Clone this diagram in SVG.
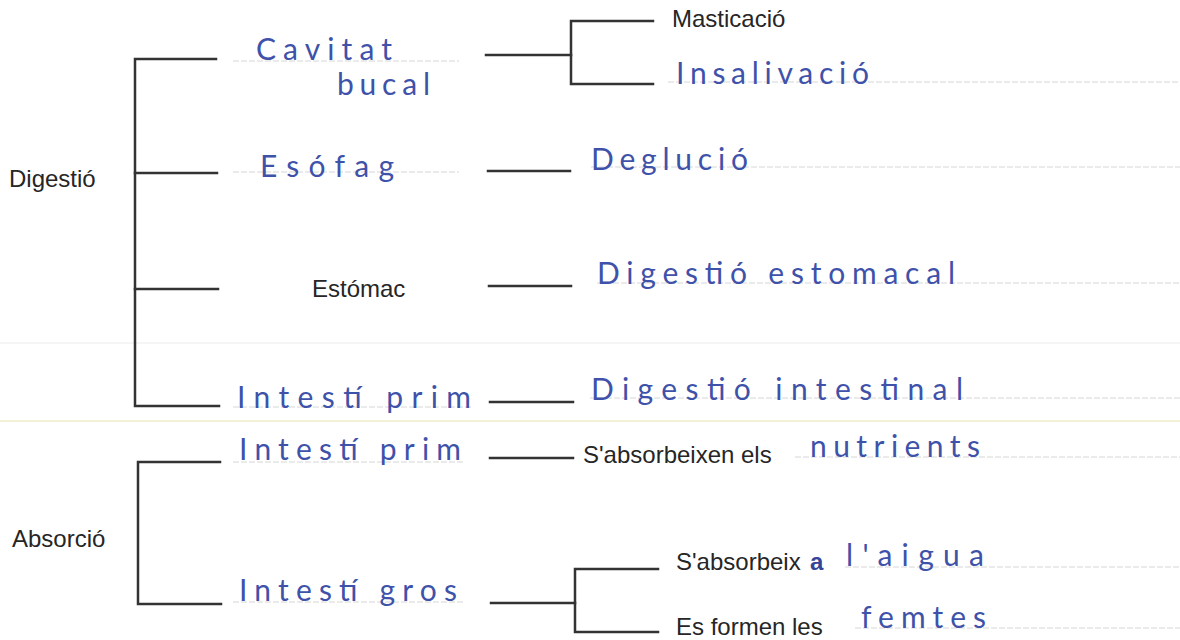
<svg xmlns="http://www.w3.org/2000/svg" width="1180" height="640" viewBox="0 0 1180 640">
<style>
.bg{fill:#ffffff}
.pl{stroke:#ececec;stroke-width:1}
.ply{stroke:#f4f0d6;stroke-width:2}
.gl{stroke:#d6d6d6;stroke-width:1;stroke-dasharray:6 2}
.cn{fill:none;stroke:#333333;stroke-width:2.5;stroke-linecap:square}
.pt{font-family:"Liberation Sans",Arial,sans-serif;font-size:24px;fill:#262626}
.hw{font-family:Lato,"Open Sans","DejaVu Sans",sans-serif;font-weight:normal;font-size:30px;fill:#3f52aa}
</style>
<rect class="bg" x="0" y="0" width="1180" height="640"/>
<g id="guides">
<line class="pl" x1="0" y1="343" x2="1180" y2="343"/>
<line class="ply" x1="0" y1="421" x2="1180" y2="421"/>
<line class="gl" x1="233" y1="61" x2="459" y2="61"/>
<line class="gl" x1="233" y1="172" x2="459" y2="172"/>
<line class="gl" x1="233" y1="407" x2="472" y2="407"/>
<line class="gl" x1="233" y1="462" x2="463" y2="462"/>
<line class="gl" x1="233" y1="602" x2="463" y2="602"/>
<line class="gl" x1="668" y1="82" x2="1180" y2="82"/>
<line class="gl" x1="591" y1="167" x2="1180" y2="167"/>
<line class="gl" x1="597" y1="283" x2="1180" y2="283"/>
<line class="gl" x1="590" y1="398" x2="1180" y2="398"/>
<line class="gl" x1="795" y1="457" x2="1180" y2="457"/>
<line class="gl" x1="845" y1="567" x2="1180" y2="567"/>
<line class="gl" x1="855" y1="628" x2="1180" y2="628"/>
</g>
<g id="connectors">
<path class="cn" d="M216,59 H135 V406 H219"/>
<path class="cn" d="M135,173 H217"/>
<path class="cn" d="M135,289 H218"/>
<path class="cn" d="M486,55 H571"/>
<path class="cn" d="M653,21 H571 V84 H653"/>
<path class="cn" d="M488,171 H570"/>
<path class="cn" d="M489,286 H571"/>
<path class="cn" d="M490,402 H573"/>
<path class="cn" d="M220,462 H138 V604 H221"/>
<path class="cn" d="M490,458 H573"/>
<path class="cn" d="M491,603 H575"/>
<path class="cn" d="M658,569 H575 V632 H658"/>
</g>
<g id="digestio"><text class="pt" x="9" y="187">Digestió</text></g>
<g id="absorcio"><text class="pt" x="12" y="547">Absorció</text></g>
<g id="cavitat"><text class="hw" x="256" y="60" textLength="136" lengthAdjust="spacing">Cavitat</text><text class="hw" x="337" y="95" textLength="93" lengthAdjust="spacing">bucal</text></g>
<g id="esofag"><text class="hw" x="260" y="177" textLength="134" lengthAdjust="spacing">Esófag</text></g>
<g id="estomac"><text class="pt" x="312" y="297">Estómac</text></g>
<g id="intesti-prim-1"><text class="hw" x="237" y="408" textLength="234" lengthAdjust="spacing">Intestí prim</text></g>
<g id="intesti-prim-2"><text class="hw" x="239" y="460" textLength="222" lengthAdjust="spacing">Intestí prim</text></g>
<g id="intesti-gros"><text class="hw" x="239" y="601" textLength="218" lengthAdjust="spacing">Intestí gros</text></g>
<g id="masticacio"><text class="pt" x="672" y="27">Masticació</text></g>
<g id="insalivacio"><text class="hw" x="676" y="84" textLength="193" lengthAdjust="spacing">Insalivació</text></g>
<g id="deglucio"><text class="hw" x="591" y="170" textLength="157" lengthAdjust="spacing">Deglució</text></g>
<g id="dig-estomacal"><text class="hw" x="597" y="284" textLength="358" lengthAdjust="spacing">Digestió estomacal</text></g>
<g id="dig-intestinal"><text class="hw" x="591" y="400" textLength="372" lengthAdjust="spacing">Digestió intestinal</text></g>
<g id="nutrients"><text class="pt" x="583" y="463">S'absorbeixen els</text><text class="hw" x="810" y="457" textLength="170" lengthAdjust="spacing">nutrients</text></g>
<g id="aigua"><text class="pt" x="676" y="570">S'absorbeix</text><text x="810" y="570" style="font-family:'Liberation Sans',sans-serif;font-weight:bold;font-size:24px;fill:#34459a">a</text><text class="hw" x="846" y="566" textLength="138" lengthAdjust="spacing">l'aigua</text></g>
<g id="femtes"><text class="pt" x="676" y="635">Es formen les</text><text class="hw" x="861" y="628" textLength="125" lengthAdjust="spacing">femtes</text></g>
</svg>
